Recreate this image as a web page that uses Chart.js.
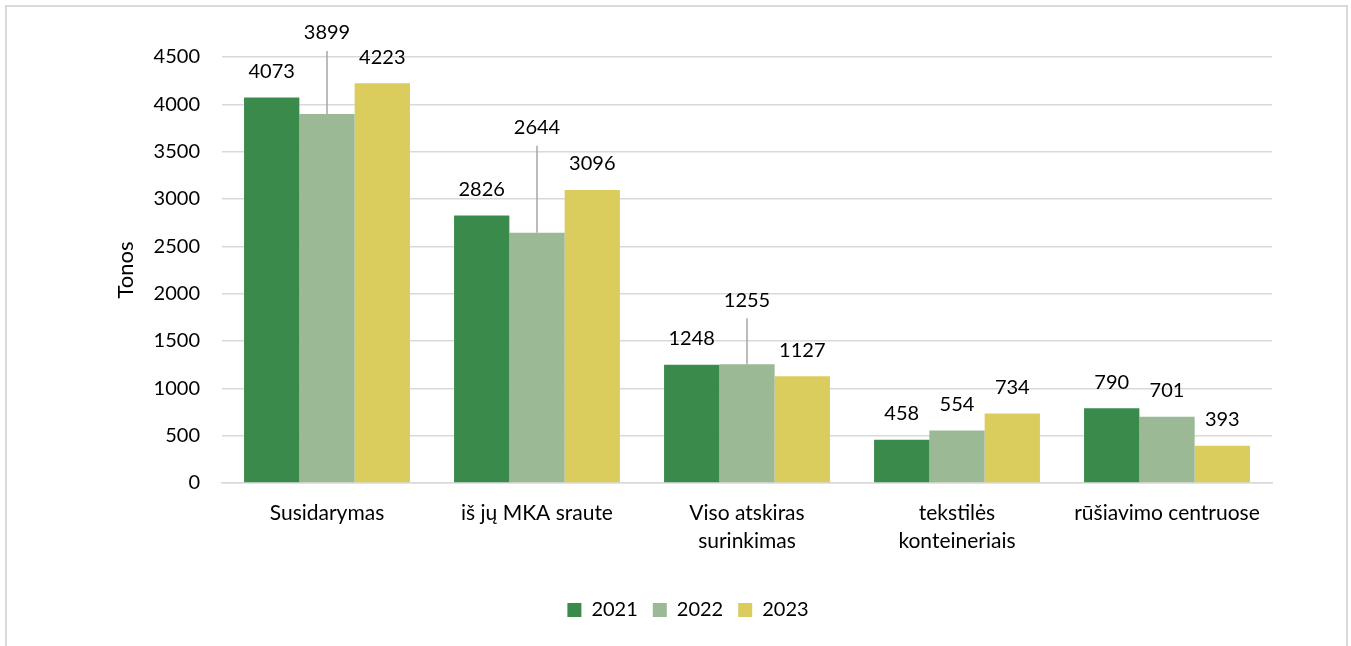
<!DOCTYPE html>
<html>
<head>
<meta charset="utf-8">
<script src="https://cdn.jsdelivr.net/npm/chart.js@4"></script>
<style>
  html, body { margin: 0; padding: 0; background: #fff; }
  #wrap { width: 1351px; height: 646px; }
</style>
</head>
<body>
<div id="wrap"><canvas id="chart" width="1351" height="646"></canvas></div>
<script>
// --- data ---
const categories = [
    'Susidarymas',
    'iš jų MKA sraute',
    ['Viso atskiras', 'surinkimas'],
    ['tekstilės', 'konteineriais'],
    'rūšiavimo centruose'
];
const years = ['2021', '2022', '2023'];
const values2021 = [4073, 2826, 1248, 458, 790];
const values2022 = [3899, 2644, 1255, 554, 701];
const values2023 = [4223, 3096, 1127, 734, 393];

const colors = ['#3a8a4c', '#9bb995', '#dacd5e'];
const FONT = 'Lato, "Open Sans", sans-serif';

// labels moved up by hand in the original, with leader lines (px above bar top)
const labelLift = { 1: [81, 105, 64, 26, 26] };

const frame = {
    id: 'frame',
    beforeDraw(chart) {
        const ctx = chart.ctx;
        ctx.save();
        ctx.fillStyle = '#fff';
        ctx.fillRect(0, 0, chart.width, chart.height);
        ctx.strokeStyle = '#d9d9d9';
        ctx.lineWidth = 2;
        ctx.beginPath();
        ctx.moveTo(6, chart.height + 5);
        ctx.lineTo(6, 6);
        ctx.lineTo(chart.width - 4, 6);
        ctx.lineTo(chart.width - 4, chart.height + 5);
        ctx.stroke();
        ctx.restore();
    }
};

const barLabels = {
    id: 'barLabels',
    afterDatasetsDraw(chart) {
        const ctx = chart.ctx;
        ctx.save();
        ctx.font = '20px ' + FONT;
        ctx.fillStyle = '#000';
        ctx.textAlign = 'center';
        ctx.textBaseline = 'middle';
        chart.data.datasets.forEach((ds, di) => {
            chart.getDatasetMeta(di).data.forEach((bar, i) => {
                const lift = labelLift[di] ? labelLift[di][i] : 26;
                const ly = bar.y - lift;
                if (lift > 30) {
                    ctx.strokeStyle = '#a6a6a6';
                    ctx.lineWidth = 1.5;
                    ctx.beginPath();
                    ctx.moveTo(bar.x, ly + 18);
                    ctx.lineTo(bar.x, bar.y);
                    ctx.stroke();
                }
                ctx.fillText(String(ds.data[i]), bar.x, ly);
            });
        });
        ctx.restore();
    }
};

new Chart(document.getElementById('chart'), {
    type: 'bar',
    data: {
        labels: categories,
        datasets: [values2021, values2022, values2023].map((d, i) => ({
            label: years[i],
            data: d,
            backgroundColor: colors[i],
            borderWidth: 0,
            barPercentage: 1.0,
            categoryPercentage: 0.79
        }))
    },
    options: {
        responsive: false,
        animation: false,
        layout: { padding: { left: 25, right: 0, top: 57, bottom: 16 } },
        scales: {
            x: {
                grid: { display: false },
                border: { color: '#d9d9d9', width: 1.5 },
                ticks: { color: '#000', font: { family: FONT, size: 21, lineHeight: 1.3 }, padding: 9, maxRotation: 0, autoSkip: false },
                afterFit(scale) { scale.height = 102; }
            },
            y: {
                min: 0, max: 4500,
                ticks: { stepSize: 500, color: '#000', font: { family: FONT, size: 20 }, padding: 22, callback: v => String(v) },
                grid: { color: '#d9d9d9', lineWidth: 1.5, drawTicks: false },
                border: { display: false },
                title: { display: true, text: 'Tonos', color: '#000', font: { family: FONT, size: 22 }, padding: { top: 88, bottom: 0 } },
                afterFit(scale) { scale.width = 197; }
            },
            // empty right-hand gutter so the legend centres like the original
            yRight: {
                position: 'right',
                min: 0, max: 4500,
                grid: { display: false },
                border: { display: false },
                ticks: { display: false },
                afterFit(scale) { scale.width = 79; }
            }
        },
        plugins: {
            legend: {
                position: 'bottom',
                labels: { color: '#000', font: { family: FONT, size: 20 }, boxWidth: 14, boxHeight: 14, padding: 15 }
            },
            tooltip: { enabled: false }
        }
    },
    plugins: [frame, barLabels]
});
</script>
</body>
</html>
